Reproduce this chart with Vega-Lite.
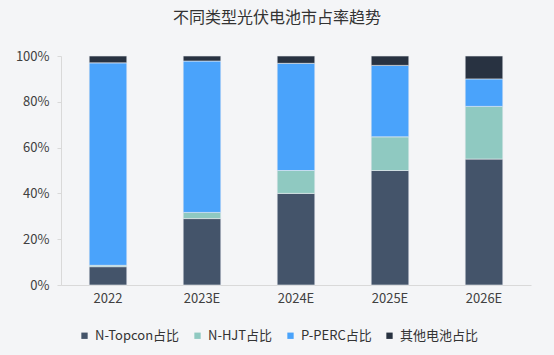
{
  "$schema": "https://vega.github.io/schema/vega-lite/v6.json",
  "autosize": {"type": "none"},
  "width": 470,
  "height": 229,
  "padding": {"left": 61, "top": 56, "right": 23, "bottom": 70},
  "background": "#f4f5f7",
  "title": {
    "text": "不同类型光伏电池市占率趋势",
    "font": "Noto Sans CJK SC",
    "fontSize": 16,
    "fontWeight": "normal",
    "color": "#333333",
    "anchor": "middle",
    "dx": -19,
    "offset": 24
  },
  "config": {
    "view": {"stroke": null},
    "font": "Noto Sans CJK SC"
  },
  "data": {
    "values": [
      {"year": "2022", "type": "N-Topcon占比", "s": 1, "v": 8},
      {"year": "2022", "type": "N-HJT占比", "s": 2, "v": 0.6},
      {"year": "2022", "type": "P-PERC占比", "s": 3, "v": 88.4},
      {"year": "2022", "type": "其他电池占比", "s": 4, "v": 3},
      {"year": "2023E", "type": "N-Topcon占比", "s": 1, "v": 29},
      {"year": "2023E", "type": "N-HJT占比", "s": 2, "v": 2.7},
      {"year": "2023E", "type": "P-PERC占比", "s": 3, "v": 66.1},
      {"year": "2023E", "type": "其他电池占比", "s": 4, "v": 2.2},
      {"year": "2024E", "type": "N-Topcon占比", "s": 1, "v": 40},
      {"year": "2024E", "type": "N-HJT占比", "s": 2, "v": 10},
      {"year": "2024E", "type": "P-PERC占比", "s": 3, "v": 46.8},
      {"year": "2024E", "type": "其他电池占比", "s": 4, "v": 3.2},
      {"year": "2025E", "type": "N-Topcon占比", "s": 1, "v": 50},
      {"year": "2025E", "type": "N-HJT占比", "s": 2, "v": 14.7},
      {"year": "2025E", "type": "P-PERC占比", "s": 3, "v": 31.2},
      {"year": "2025E", "type": "其他电池占比", "s": 4, "v": 4.1},
      {"year": "2026E", "type": "N-Topcon占比", "s": 1, "v": 55},
      {"year": "2026E", "type": "N-HJT占比", "s": 2, "v": 23},
      {"year": "2026E", "type": "P-PERC占比", "s": 3, "v": 12},
      {"year": "2026E", "type": "其他电池占比", "s": 4, "v": 10}
    ]
  },
  "mark": {"type": "bar", "stroke": "#e8ebf0", "strokeWidth": 0.6},
  "encoding": {
    "x": {
      "field": "year",
      "type": "nominal",
      "scale": {"paddingInner": 0.6, "paddingOuter": 0.3},
      "axis": {
        "title": null,
        "labelAngle": 0,
        "labelFontSize": 13,
        "labelColor": "#404040",
        "labelPadding": 7,
        "ticks": false,
        "domainColor": "#d9d9d9",
        "grid": false
      }
    },
    "y": {
      "field": "v",
      "type": "quantitative",
      "stack": "zero",
      "scale": {"domain": [0, 100]},
      "axis": {
        "title": null,
        "values": [0, 20, 40, 60, 80, 100],
        "labelExpr": "datum.value + '%'",
        "labelFontSize": 13,
        "labelColor": "#404040",
        "labelPadding": 8,
        "tickSize": 4,
        "tickColor": "#d9d9d9",
        "domainColor": "#d9d9d9",
        "grid": false
      }
    },
    "order": {"field": "s", "type": "quantitative", "sort": "ascending"},
    "color": {
      "field": "type",
      "type": "nominal",
      "scale": {
        "domain": ["N-Topcon占比", "N-HJT占比", "P-PERC占比", "其他电池占比"],
        "range": ["#44546a", "#8fc9c1", "#4aa3fb", "#283241"]
      },
      "legend": {
        "title": null,
        "orient": "none",
        "direction": "horizontal",
        "legendX": 17,
        "legendY": 273,
        "symbolType": "square",
        "symbolSize": 40,
        "symbolStrokeWidth": 0,
        "labelFontSize": 13,
        "labelColor": "#333333",
        "columnPadding": 11,
        "labelOffset": 4
      }
    }
  }
}
